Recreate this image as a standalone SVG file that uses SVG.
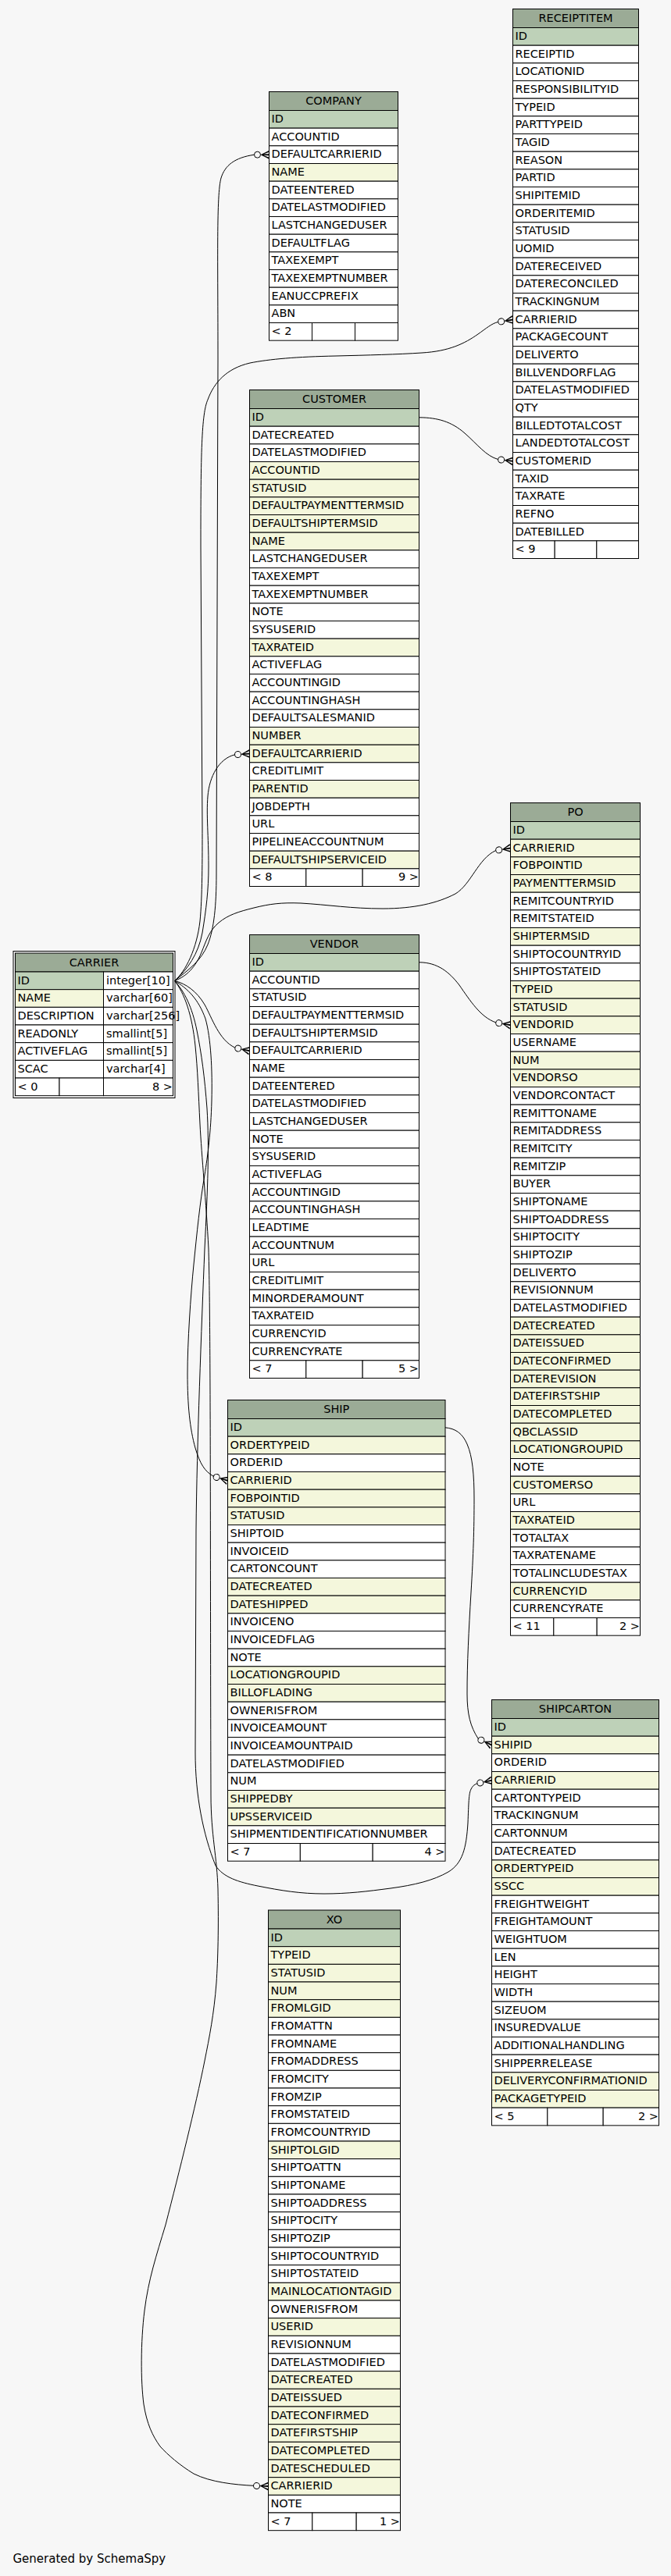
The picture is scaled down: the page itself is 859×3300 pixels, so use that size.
<svg xmlns="http://www.w3.org/2000/svg" xmlns:xlink="http://www.w3.org/1999/xlink" width="859" height="3300" viewBox="0 0 859 3300">
<style>
.tb rect{stroke:#000;stroke-width:1}
.hd{fill:#9bab96}.pk{fill:#bed1b8}.ix{fill:#f4f7dc}.w{fill:#fff}
text{font-family:"DejaVu Sans",Verdana,sans-serif;font-size:14.5px;fill:#000}
.c{text-anchor:middle}.r{text-anchor:end}
.ln{fill:none;stroke:#000;stroke-width:1}
.ring{fill:none;stroke:#000;stroke-width:2}
</style>
<defs>
<g id="ah"><circle cx="-15" cy="0" r="4" fill="none" stroke="#000" stroke-width="1"/><path d="M0,-5.5L-11,0L0,5.5L0,3.5L-7,0.8L0,1L0,-1L-7,-0.8L0,-3.5Z" fill="#000"/></g>
</defs>
<rect width="859" height="3300" fill="#f7f7f7"/>

<g id="edges">
<path class="ln" d="M223.5,1256.5 C242,1242 258,1230 266,1210 C274,1190 277,1160 277,1120 L279,460 C279,330 277,250 283,228 C288,212 300,202 325.5,198.2"/>
<path class="ln" d="M223.5,1256.5 C238,1244 252,1215 256,1180 C259,1150 259,1100 259,1060 L257,700 C257,580 258,530 266,512 C274,490 290,472 320,465 C345,460 380,457 430,456 C470,455 510,454 540,452 C575,450 595,440 612,428 C622,421 630,414 637.7,412.5"/>
<path class="ln" d="M223.5,1256.5 C240,1242 254,1222 259,1195 C264,1165 267,1140 267,1110 C267,1070 264,1045 266,1020 C268,995 280,972 300.5,966.8"/>
<path class="ln" d="M223.5,1256.5 C235,1252 248,1244 258,1220 C264,1205 268,1192 280,1182 C292,1172 305,1168 325,1163 C345,1158 360,1156 385,1157 C420,1159 450,1164 490,1164 C530,1164 560,1157 583,1145 C603,1133 612,1100 634.7,1089.5"/>
<path class="ln" d="M223.5,1256.5 C238,1260 252,1270 262,1287 C272,1305 280,1332 300.9,1342.2"/>
<path class="ln" d="M223.5,1256.5 C240,1266 254,1280 263,1305 C270,1330 272,1370 271,1410 C270,1450 266,1480 262,1505 C256,1540 252,1580 248,1620 C244,1660 240,1720 240,1760 C240,1800 243,1830 250,1855 C256,1875 262,1885 273.3,1891.2"/>
<path class="ln" d="M223.5,1256.5 C236,1270 246,1290 252,1320 C258,1350 262,1380 265,1420 C268,1470 266,1520 262,1600 C258,1700 252,1850 251,1960 L250,2245 C250,2300 260,2350 276,2390 C286,2405 305,2411 330,2416 C360,2422 385,2426 415,2426 C445,2426 470,2423 500,2419 C530,2415 555,2409 574,2398 C592,2387 597,2368 599,2335 C600,2310 600,2298 603,2292 C605,2288 607,2286 610.9,2284.8"/>
<path class="ln" d="M223.5,1256.5 C236,1272 246,1300 250,1340 C253,1370 254,1400 256,1440 C258,1480 264,1540 267,1600 C270,1700 269,2000 270,2300 C270,2350 278,2380 279,2420 C280,2470 279,2510 277,2540 C274,2580 268,2610 262,2640 C250,2700 230,2780 212,2850 C200,2890 190,2920 185,2960 C180,3000 180,3050 184,3080 C188,3105 195,3120 205,3134 C215,3145 230,3158 248,3169 C270,3180 300,3183 324.5,3184.3"/>
<path class="ln" d="M537,534.8 C560,535 578,540 595,555 C612,570 622,584 637.6,588.5"/>
<path class="ln" d="M537,1232.8 C560,1233 575,1245 588,1262 C602,1282 615,1303 634.8,1309.9"/>
<path class="ln" d="M570,1828.8 C583,1830 592,1836 598,1850 C605,1866 607,1890 607,1920 C607,1960 606,1990 603,2040 C600,2090 598,2130 598,2170 C598,2195 602,2212 612.3,2227.5"/>
<use xlink:href="#ah" href="#ah" transform="translate(344.5,198.2)"/>
<use xlink:href="#ah" href="#ah" transform="translate(656.5,409.5) rotate(-9)"/>
<use xlink:href="#ah" href="#ah" transform="translate(319.5,965.5) rotate(-4)"/>
<use xlink:href="#ah" href="#ah" transform="translate(653.5,1086.5) rotate(-9)"/>
<use xlink:href="#ah" href="#ah" transform="translate(319.5,1346.2) rotate(12)"/>
<use xlink:href="#ah" href="#ah" transform="translate(291.5,1896.8) rotate(17)"/>
<use xlink:href="#ah" href="#ah" transform="translate(629.5,2280.8) rotate(-12)"/>
<use xlink:href="#ah" href="#ah" transform="translate(343.5,3185) rotate(2)"/>
<use xlink:href="#ah" href="#ah" transform="translate(656.5,590.8) rotate(7)"/>
<use xlink:href="#ah" href="#ah" transform="translate(653.5,1313.2) rotate(10)"/>
<use xlink:href="#ah" href="#ah" transform="translate(629.5,2235.5) rotate(25)"/>
</g>

<g id="RECEIPTITEM" class="tb" transform="translate(656.5,11.5)">
<rect class="hd" width="161" height="24"/><text class="c" x="80.5" y="16.5">RECEIPTITEM</text>
<rect class="pk" y="24" width="161" height="22.67"/><text x="3" y="39.5">ID</text>
<rect class="w" y="46.67" width="161" height="22.67"/><text x="3" y="62.17">RECEIPTID</text>
<rect class="w" y="69.33" width="161" height="22.67"/><text x="3" y="84.83">LOCATIONID</text>
<rect class="w" y="92" width="161" height="22.67"/><text x="3" y="107.5">RESPONSIBILITYID</text>
<rect class="w" y="114.67" width="161" height="22.67"/><text x="3" y="130.17">TYPEID</text>
<rect class="w" y="137.33" width="161" height="22.67"/><text x="3" y="152.83">PARTTYPEID</text>
<rect class="w" y="160" width="161" height="22.67"/><text x="3" y="175.5">TAGID</text>
<rect class="w" y="182.67" width="161" height="22.67"/><text x="3" y="198.17">REASON</text>
<rect class="w" y="205.33" width="161" height="22.67"/><text x="3" y="220.83">PARTID</text>
<rect class="w" y="228" width="161" height="22.67"/><text x="3" y="243.5">SHIPITEMID</text>
<rect class="w" y="250.67" width="161" height="22.67"/><text x="3" y="266.17">ORDERITEMID</text>
<rect class="w" y="273.33" width="161" height="22.67"/><text x="3" y="288.83">STATUSID</text>
<rect class="w" y="296" width="161" height="22.67"/><text x="3" y="311.5">UOMID</text>
<rect class="w" y="318.67" width="161" height="22.67"/><text x="3" y="334.17">DATERECEIVED</text>
<rect class="w" y="341.33" width="161" height="22.67"/><text x="3" y="356.83">DATERECONCILED</text>
<rect class="w" y="364" width="161" height="22.67"/><text x="3" y="379.5">TRACKINGNUM</text>
<rect class="w" y="386.67" width="161" height="22.67"/><text x="3" y="402.17">CARRIERID</text>
<rect class="w" y="409.33" width="161" height="22.67"/><text x="3" y="424.83">PACKAGECOUNT</text>
<rect class="w" y="432" width="161" height="22.67"/><text x="3" y="447.5">DELIVERTO</text>
<rect class="w" y="454.67" width="161" height="22.67"/><text x="3" y="470.17">BILLVENDORFLAG</text>
<rect class="w" y="477.33" width="161" height="22.67"/><text x="3" y="492.83">DATELASTMODIFIED</text>
<rect class="w" y="500" width="161" height="22.67"/><text x="3" y="515.5">QTY</text>
<rect class="w" y="522.67" width="161" height="22.67"/><text x="3" y="538.17">BILLEDTOTALCOST</text>
<rect class="w" y="545.33" width="161" height="22.67"/><text x="3" y="560.83">LANDEDTOTALCOST</text>
<rect class="w" y="568" width="161" height="22.67"/><text x="3" y="583.5">CUSTOMERID</text>
<rect class="w" y="590.67" width="161" height="22.67"/><text x="3" y="606.17">TAXID</text>
<rect class="w" y="613.33" width="161" height="22.67"/><text x="3" y="628.83">TAXRATE</text>
<rect class="w" y="636" width="161" height="22.67"/><text x="3" y="651.5">REFNO</text>
<rect class="w" y="658.67" width="161" height="22.67"/><text x="3" y="674.17">DATEBILLED</text>
<rect class="w" y="681.33" width="53.67" height="22.67"/><rect class="w" x="53.67" y="681.33" width="53.67" height="22.67"/><rect class="w" x="107.33" y="681.33" width="53.67" height="22.67"/><text x="3" y="696.83">&lt; 9</text>
</g>

<g id="COMPANY" class="tb" transform="translate(344.5,117.5)">
<rect class="hd" width="165" height="24"/><text class="c" x="82.5" y="16.5">COMPANY</text>
<rect class="pk" y="24" width="165" height="22.67"/><text x="3" y="39.5">ID</text>
<rect class="w" y="46.67" width="165" height="22.67"/><text x="3" y="62.17">ACCOUNTID</text>
<rect class="w" y="69.33" width="165" height="22.67"/><text x="3" y="84.83">DEFAULTCARRIERID</text>
<rect class="ix" y="92" width="165" height="22.67"/><text x="3" y="107.5">NAME</text>
<rect class="w" y="114.67" width="165" height="22.67"/><text x="3" y="130.17">DATEENTERED</text>
<rect class="w" y="137.33" width="165" height="22.67"/><text x="3" y="152.83">DATELASTMODIFIED</text>
<rect class="w" y="160" width="165" height="22.67"/><text x="3" y="175.5">LASTCHANGEDUSER</text>
<rect class="w" y="182.67" width="165" height="22.67"/><text x="3" y="198.17">DEFAULTFLAG</text>
<rect class="w" y="205.33" width="165" height="22.67"/><text x="3" y="220.83">TAXEXEMPT</text>
<rect class="w" y="228" width="165" height="22.67"/><text x="3" y="243.5">TAXEXEMPTNUMBER</text>
<rect class="w" y="250.67" width="165" height="22.67"/><text x="3" y="266.17">EANUCCPREFIX</text>
<rect class="w" y="273.33" width="165" height="22.67"/><text x="3" y="288.83">ABN</text>
<rect class="w" y="296" width="55" height="22.67"/><rect class="w" x="55" y="296" width="55" height="22.67"/><rect class="w" x="110" y="296" width="55" height="22.67"/><text x="3" y="311.5">&lt; 2</text>
</g>

<g id="CUSTOMER" class="tb" transform="translate(319.5,499.5)">
<rect class="hd" width="217" height="24"/><text class="c" x="108.5" y="16.5">CUSTOMER</text>
<rect class="pk" y="24" width="217" height="22.67"/><text x="3" y="39.5">ID</text>
<rect class="w" y="46.67" width="217" height="22.67"/><text x="3" y="62.17">DATECREATED</text>
<rect class="w" y="69.33" width="217" height="22.67"/><text x="3" y="84.83">DATELASTMODIFIED</text>
<rect class="ix" y="92" width="217" height="22.67"/><text x="3" y="107.5">ACCOUNTID</text>
<rect class="ix" y="114.67" width="217" height="22.67"/><text x="3" y="130.17">STATUSID</text>
<rect class="ix" y="137.33" width="217" height="22.67"/><text x="3" y="152.83">DEFAULTPAYMENTTERMSID</text>
<rect class="ix" y="160" width="217" height="22.67"/><text x="3" y="175.5">DEFAULTSHIPTERMSID</text>
<rect class="ix" y="182.67" width="217" height="22.67"/><text x="3" y="198.17">NAME</text>
<rect class="w" y="205.33" width="217" height="22.67"/><text x="3" y="220.83">LASTCHANGEDUSER</text>
<rect class="w" y="228" width="217" height="22.67"/><text x="3" y="243.5">TAXEXEMPT</text>
<rect class="w" y="250.67" width="217" height="22.67"/><text x="3" y="266.17">TAXEXEMPTNUMBER</text>
<rect class="w" y="273.33" width="217" height="22.67"/><text x="3" y="288.83">NOTE</text>
<rect class="w" y="296" width="217" height="22.67"/><text x="3" y="311.5">SYSUSERID</text>
<rect class="ix" y="318.67" width="217" height="22.67"/><text x="3" y="334.17">TAXRATEID</text>
<rect class="w" y="341.33" width="217" height="22.67"/><text x="3" y="356.83">ACTIVEFLAG</text>
<rect class="w" y="364" width="217" height="22.67"/><text x="3" y="379.5">ACCOUNTINGID</text>
<rect class="w" y="386.67" width="217" height="22.67"/><text x="3" y="402.17">ACCOUNTINGHASH</text>
<rect class="w" y="409.33" width="217" height="22.67"/><text x="3" y="424.83">DEFAULTSALESMANID</text>
<rect class="ix" y="432" width="217" height="22.67"/><text x="3" y="447.5">NUMBER</text>
<rect class="ix" y="454.67" width="217" height="22.67"/><text x="3" y="470.17">DEFAULTCARRIERID</text>
<rect class="w" y="477.33" width="217" height="22.67"/><text x="3" y="492.83">CREDITLIMIT</text>
<rect class="ix" y="500" width="217" height="22.67"/><text x="3" y="515.5">PARENTID</text>
<rect class="w" y="522.67" width="217" height="22.67"/><text x="3" y="538.17">JOBDEPTH</text>
<rect class="w" y="545.33" width="217" height="22.67"/><text x="3" y="560.83">URL</text>
<rect class="w" y="568" width="217" height="22.67"/><text x="3" y="583.5">PIPELINEACCOUNTNUM</text>
<rect class="ix" y="590.67" width="217" height="22.67"/><text x="3" y="606.17">DEFAULTSHIPSERVICEID</text>
<rect class="w" y="613.33" width="72.33" height="22.67"/><rect class="w" x="72.33" y="613.33" width="72.33" height="22.67"/><rect class="w" x="144.67" y="613.33" width="72.33" height="22.67"/><text x="3" y="628.83">&lt; 8</text><text class="r" x="216.5" y="628.83">9 &gt;</text>
</g>

<g id="CARRIER" class="tb" transform="translate(19.5,1221)">
<rect class="ring" x="-2.5" y="-2.5" width="207" height="188"/>
<rect class="hd" width="202" height="24"/><text class="c" x="101" y="16.5">CARRIER</text>
<rect class="pk" y="24" width="113" height="22.67"/><rect class="w" x="113" y="24" width="89" height="22.67"/><text x="3" y="39.5">ID</text><text x="116.5" y="39.5">integer[10]</text>
<rect class="ix" y="46.67" width="113" height="22.67"/><rect class="w" x="113" y="46.67" width="89" height="22.67"/><text x="3" y="62.17">NAME</text><text x="116.5" y="62.17">varchar[60]</text>
<rect class="w" y="69.33" width="113" height="22.67"/><rect class="w" x="113" y="69.33" width="89" height="22.67"/><text x="3" y="84.83">DESCRIPTION</text><text x="116.5" y="84.83">varchar[256]</text>
<rect class="w" y="92" width="113" height="22.67"/><rect class="w" x="113" y="92" width="89" height="22.67"/><text x="3" y="107.5">READONLY</text><text x="116.5" y="107.5">smallint[5]</text>
<rect class="w" y="114.67" width="113" height="22.67"/><rect class="w" x="113" y="114.67" width="89" height="22.67"/><text x="3" y="130.17">ACTIVEFLAG</text><text x="116.5" y="130.17">smallint[5]</text>
<rect class="w" y="137.33" width="113" height="22.67"/><rect class="w" x="113" y="137.33" width="89" height="22.67"/><text x="3" y="152.83">SCAC</text><text x="116.5" y="152.83">varchar[4]</text>
<rect class="w" y="160" width="56.5" height="22.67"/><rect class="w" x="56.5" y="160" width="56.5" height="22.67"/><rect class="w" x="113" y="160" width="89" height="22.67"/><text x="3" y="175.5">&lt; 0</text><text class="r" x="201.5" y="175.5">8 &gt;</text>
</g>

<g id="PO" class="tb" transform="translate(653.5,1028.5)">
<rect class="hd" width="166" height="24"/><text class="c" x="83" y="16.5">PO</text>
<rect class="pk" y="24" width="166" height="22.67"/><text x="3" y="39.5">ID</text>
<rect class="ix" y="46.67" width="166" height="22.67"/><text x="3" y="62.17">CARRIERID</text>
<rect class="ix" y="69.33" width="166" height="22.67"/><text x="3" y="84.83">FOBPOINTID</text>
<rect class="ix" y="92" width="166" height="22.67"/><text x="3" y="107.5">PAYMENTTERMSID</text>
<rect class="w" y="114.67" width="166" height="22.67"/><text x="3" y="130.17">REMITCOUNTRYID</text>
<rect class="w" y="137.33" width="166" height="22.67"/><text x="3" y="152.83">REMITSTATEID</text>
<rect class="ix" y="160" width="166" height="22.67"/><text x="3" y="175.5">SHIPTERMSID</text>
<rect class="w" y="182.67" width="166" height="22.67"/><text x="3" y="198.17">SHIPTOCOUNTRYID</text>
<rect class="w" y="205.33" width="166" height="22.67"/><text x="3" y="220.83">SHIPTOSTATEID</text>
<rect class="ix" y="228" width="166" height="22.67"/><text x="3" y="243.5">TYPEID</text>
<rect class="ix" y="250.67" width="166" height="22.67"/><text x="3" y="266.17">STATUSID</text>
<rect class="ix" y="273.33" width="166" height="22.67"/><text x="3" y="288.83">VENDORID</text>
<rect class="w" y="296" width="166" height="22.67"/><text x="3" y="311.5">USERNAME</text>
<rect class="ix" y="318.67" width="166" height="22.67"/><text x="3" y="334.17">NUM</text>
<rect class="ix" y="341.33" width="166" height="22.67"/><text x="3" y="356.83">VENDORSO</text>
<rect class="w" y="364" width="166" height="22.67"/><text x="3" y="379.5">VENDORCONTACT</text>
<rect class="w" y="386.67" width="166" height="22.67"/><text x="3" y="402.17">REMITTONAME</text>
<rect class="w" y="409.33" width="166" height="22.67"/><text x="3" y="424.83">REMITADDRESS</text>
<rect class="w" y="432" width="166" height="22.67"/><text x="3" y="447.5">REMITCITY</text>
<rect class="w" y="454.67" width="166" height="22.67"/><text x="3" y="470.17">REMITZIP</text>
<rect class="w" y="477.33" width="166" height="22.67"/><text x="3" y="492.83">BUYER</text>
<rect class="w" y="500" width="166" height="22.67"/><text x="3" y="515.5">SHIPTONAME</text>
<rect class="w" y="522.67" width="166" height="22.67"/><text x="3" y="538.17">SHIPTOADDRESS</text>
<rect class="w" y="545.33" width="166" height="22.67"/><text x="3" y="560.83">SHIPTOCITY</text>
<rect class="w" y="568" width="166" height="22.67"/><text x="3" y="583.5">SHIPTOZIP</text>
<rect class="w" y="590.67" width="166" height="22.67"/><text x="3" y="606.17">DELIVERTO</text>
<rect class="w" y="613.33" width="166" height="22.67"/><text x="3" y="628.83">REVISIONNUM</text>
<rect class="w" y="636" width="166" height="22.67"/><text x="3" y="651.5">DATELASTMODIFIED</text>
<rect class="ix" y="658.67" width="166" height="22.67"/><text x="3" y="674.17">DATECREATED</text>
<rect class="ix" y="681.33" width="166" height="22.67"/><text x="3" y="696.83">DATEISSUED</text>
<rect class="ix" y="704" width="166" height="22.67"/><text x="3" y="719.5">DATECONFIRMED</text>
<rect class="ix" y="726.67" width="166" height="22.67"/><text x="3" y="742.17">DATEREVISION</text>
<rect class="ix" y="749.33" width="166" height="22.67"/><text x="3" y="764.83">DATEFIRSTSHIP</text>
<rect class="ix" y="772" width="166" height="22.67"/><text x="3" y="787.5">DATECOMPLETED</text>
<rect class="ix" y="794.67" width="166" height="22.67"/><text x="3" y="810.17">QBCLASSID</text>
<rect class="ix" y="817.33" width="166" height="22.67"/><text x="3" y="832.83">LOCATIONGROUPID</text>
<rect class="w" y="840" width="166" height="22.67"/><text x="3" y="855.5">NOTE</text>
<rect class="ix" y="862.67" width="166" height="22.67"/><text x="3" y="878.17">CUSTOMERSO</text>
<rect class="w" y="885.33" width="166" height="22.67"/><text x="3" y="900.83">URL</text>
<rect class="ix" y="908" width="166" height="22.67"/><text x="3" y="923.5">TAXRATEID</text>
<rect class="w" y="930.67" width="166" height="22.67"/><text x="3" y="946.17">TOTALTAX</text>
<rect class="w" y="953.33" width="166" height="22.67"/><text x="3" y="968.83">TAXRATENAME</text>
<rect class="w" y="976" width="166" height="22.67"/><text x="3" y="991.5">TOTALINCLUDESTAX</text>
<rect class="ix" y="998.67" width="166" height="22.67"/><text x="3" y="1014.17">CURRENCYID</text>
<rect class="w" y="1021.33" width="166" height="22.67"/><text x="3" y="1036.83">CURRENCYRATE</text>
<rect class="w" y="1044" width="55.33" height="22.67"/><rect class="w" x="55.33" y="1044" width="55.33" height="22.67"/><rect class="w" x="110.67" y="1044" width="55.33" height="22.67"/><text x="3" y="1059.5">&lt; 11</text><text class="r" x="165.5" y="1059.5">2 &gt;</text>
</g>

<g id="VENDOR" class="tb" transform="translate(319.5,1197.5)">
<rect class="hd" width="217" height="24"/><text class="c" x="108.5" y="16.5">VENDOR</text>
<rect class="pk" y="24" width="217" height="22.67"/><text x="3" y="39.5">ID</text>
<rect class="w" y="46.67" width="217" height="22.67"/><text x="3" y="62.17">ACCOUNTID</text>
<rect class="w" y="69.33" width="217" height="22.67"/><text x="3" y="84.83">STATUSID</text>
<rect class="w" y="92" width="217" height="22.67"/><text x="3" y="107.5">DEFAULTPAYMENTTERMSID</text>
<rect class="w" y="114.67" width="217" height="22.67"/><text x="3" y="130.17">DEFAULTSHIPTERMSID</text>
<rect class="w" y="137.33" width="217" height="22.67"/><text x="3" y="152.83">DEFAULTCARRIERID</text>
<rect class="w" y="160" width="217" height="22.67"/><text x="3" y="175.5">NAME</text>
<rect class="w" y="182.67" width="217" height="22.67"/><text x="3" y="198.17">DATEENTERED</text>
<rect class="w" y="205.33" width="217" height="22.67"/><text x="3" y="220.83">DATELASTMODIFIED</text>
<rect class="w" y="228" width="217" height="22.67"/><text x="3" y="243.5">LASTCHANGEDUSER</text>
<rect class="w" y="250.67" width="217" height="22.67"/><text x="3" y="266.17">NOTE</text>
<rect class="w" y="273.33" width="217" height="22.67"/><text x="3" y="288.83">SYSUSERID</text>
<rect class="w" y="296" width="217" height="22.67"/><text x="3" y="311.5">ACTIVEFLAG</text>
<rect class="w" y="318.67" width="217" height="22.67"/><text x="3" y="334.17">ACCOUNTINGID</text>
<rect class="w" y="341.33" width="217" height="22.67"/><text x="3" y="356.83">ACCOUNTINGHASH</text>
<rect class="w" y="364" width="217" height="22.67"/><text x="3" y="379.5">LEADTIME</text>
<rect class="w" y="386.67" width="217" height="22.67"/><text x="3" y="402.17">ACCOUNTNUM</text>
<rect class="w" y="409.33" width="217" height="22.67"/><text x="3" y="424.83">URL</text>
<rect class="w" y="432" width="217" height="22.67"/><text x="3" y="447.5">CREDITLIMIT</text>
<rect class="w" y="454.67" width="217" height="22.67"/><text x="3" y="470.17">MINORDERAMOUNT</text>
<rect class="w" y="477.33" width="217" height="22.67"/><text x="3" y="492.83">TAXRATEID</text>
<rect class="w" y="500" width="217" height="22.67"/><text x="3" y="515.5">CURRENCYID</text>
<rect class="w" y="522.67" width="217" height="22.67"/><text x="3" y="538.17">CURRENCYRATE</text>
<rect class="w" y="545.33" width="72.33" height="22.67"/><rect class="w" x="72.33" y="545.33" width="72.33" height="22.67"/><rect class="w" x="144.67" y="545.33" width="72.33" height="22.67"/><text x="3" y="560.83">&lt; 7</text><text class="r" x="216.5" y="560.83">5 &gt;</text>
</g>

<g id="SHIP" class="tb" transform="translate(291.5,1793.5)">
<rect class="hd" width="278.5" height="24"/><text class="c" x="139.25" y="16.5">SHIP</text>
<rect class="pk" y="24" width="278.5" height="22.67"/><text x="3" y="39.5">ID</text>
<rect class="ix" y="46.67" width="278.5" height="22.67"/><text x="3" y="62.17">ORDERTYPEID</text>
<rect class="w" y="69.33" width="278.5" height="22.67"/><text x="3" y="84.83">ORDERID</text>
<rect class="ix" y="92" width="278.5" height="22.67"/><text x="3" y="107.5">CARRIERID</text>
<rect class="ix" y="114.67" width="278.5" height="22.67"/><text x="3" y="130.17">FOBPOINTID</text>
<rect class="ix" y="137.33" width="278.5" height="22.67"/><text x="3" y="152.83">STATUSID</text>
<rect class="w" y="160" width="278.5" height="22.67"/><text x="3" y="175.5">SHIPTOID</text>
<rect class="w" y="182.67" width="278.5" height="22.67"/><text x="3" y="198.17">INVOICEID</text>
<rect class="w" y="205.33" width="278.5" height="22.67"/><text x="3" y="220.83">CARTONCOUNT</text>
<rect class="ix" y="228" width="278.5" height="22.67"/><text x="3" y="243.5">DATECREATED</text>
<rect class="ix" y="250.67" width="278.5" height="22.67"/><text x="3" y="266.17">DATESHIPPED</text>
<rect class="w" y="273.33" width="278.5" height="22.67"/><text x="3" y="288.83">INVOICENO</text>
<rect class="w" y="296" width="278.5" height="22.67"/><text x="3" y="311.5">INVOICEDFLAG</text>
<rect class="w" y="318.67" width="278.5" height="22.67"/><text x="3" y="334.17">NOTE</text>
<rect class="ix" y="341.33" width="278.5" height="22.67"/><text x="3" y="356.83">LOCATIONGROUPID</text>
<rect class="ix" y="364" width="278.5" height="22.67"/><text x="3" y="379.5">BILLOFLADING</text>
<rect class="w" y="386.67" width="278.5" height="22.67"/><text x="3" y="402.17">OWNERISFROM</text>
<rect class="w" y="409.33" width="278.5" height="22.67"/><text x="3" y="424.83">INVOICEAMOUNT</text>
<rect class="w" y="432" width="278.5" height="22.67"/><text x="3" y="447.5">INVOICEAMOUNTPAID</text>
<rect class="w" y="454.67" width="278.5" height="22.67"/><text x="3" y="470.17">DATELASTMODIFIED</text>
<rect class="w" y="477.33" width="278.5" height="22.67"/><text x="3" y="492.83">NUM</text>
<rect class="ix" y="500" width="278.5" height="22.67"/><text x="3" y="515.5">SHIPPEDBY</text>
<rect class="ix" y="522.67" width="278.5" height="22.67"/><text x="3" y="538.17">UPSSERVICEID</text>
<rect class="w" y="545.33" width="278.5" height="22.67"/><text x="3" y="560.83">SHIPMENTIDENTIFICATIONNUMBER</text>
<rect class="w" y="568" width="92.83" height="22.67"/><rect class="w" x="92.83" y="568" width="92.83" height="22.67"/><rect class="w" x="185.67" y="568" width="92.83" height="22.67"/><text x="3" y="583.5">&lt; 7</text><text class="r" x="278" y="583.5">4 &gt;</text>
</g>

<g id="SHIPCARTON" class="tb" transform="translate(629.5,2177.5)">
<rect class="hd" width="214" height="24"/><text class="c" x="107" y="16.5">SHIPCARTON</text>
<rect class="pk" y="24" width="214" height="22.67"/><text x="3" y="39.5">ID</text>
<rect class="ix" y="46.67" width="214" height="22.67"/><text x="3" y="62.17">SHIPID</text>
<rect class="w" y="69.33" width="214" height="22.67"/><text x="3" y="84.83">ORDERID</text>
<rect class="ix" y="92" width="214" height="22.67"/><text x="3" y="107.5">CARRIERID</text>
<rect class="w" y="114.67" width="214" height="22.67"/><text x="3" y="130.17">CARTONTYPEID</text>
<rect class="w" y="137.33" width="214" height="22.67"/><text x="3" y="152.83">TRACKINGNUM</text>
<rect class="w" y="160" width="214" height="22.67"/><text x="3" y="175.5">CARTONNUM</text>
<rect class="w" y="182.67" width="214" height="22.67"/><text x="3" y="198.17">DATECREATED</text>
<rect class="ix" y="205.33" width="214" height="22.67"/><text x="3" y="220.83">ORDERTYPEID</text>
<rect class="ix" y="228" width="214" height="22.67"/><text x="3" y="243.5">SSCC</text>
<rect class="w" y="250.67" width="214" height="22.67"/><text x="3" y="266.17">FREIGHTWEIGHT</text>
<rect class="w" y="273.33" width="214" height="22.67"/><text x="3" y="288.83">FREIGHTAMOUNT</text>
<rect class="w" y="296" width="214" height="22.67"/><text x="3" y="311.5">WEIGHTUOM</text>
<rect class="w" y="318.67" width="214" height="22.67"/><text x="3" y="334.17">LEN</text>
<rect class="w" y="341.33" width="214" height="22.67"/><text x="3" y="356.83">HEIGHT</text>
<rect class="w" y="364" width="214" height="22.67"/><text x="3" y="379.5">WIDTH</text>
<rect class="w" y="386.67" width="214" height="22.67"/><text x="3" y="402.17">SIZEUOM</text>
<rect class="w" y="409.33" width="214" height="22.67"/><text x="3" y="424.83">INSUREDVALUE</text>
<rect class="w" y="432" width="214" height="22.67"/><text x="3" y="447.5">ADDITIONALHANDLING</text>
<rect class="w" y="454.67" width="214" height="22.67"/><text x="3" y="470.17">SHIPPERRELEASE</text>
<rect class="ix" y="477.33" width="214" height="22.67"/><text x="3" y="492.83">DELIVERYCONFIRMATIONID</text>
<rect class="ix" y="500" width="214" height="22.67"/><text x="3" y="515.5">PACKAGETYPEID</text>
<rect class="w" y="522.67" width="71.33" height="22.67"/><rect class="w" x="71.33" y="522.67" width="71.33" height="22.67"/><rect class="w" x="142.67" y="522.67" width="71.33" height="22.67"/><text x="3" y="538.17">&lt; 5</text><text class="r" x="213.5" y="538.17">2 &gt;</text>
</g>

<g id="XO" class="tb" transform="translate(343.5,2447)">
<rect class="hd" width="169" height="24"/><text class="c" x="84.5" y="16.5">XO</text>
<rect class="pk" y="24" width="169" height="22.67"/><text x="3" y="39.5">ID</text>
<rect class="ix" y="46.67" width="169" height="22.67"/><text x="3" y="62.17">TYPEID</text>
<rect class="ix" y="69.33" width="169" height="22.67"/><text x="3" y="84.83">STATUSID</text>
<rect class="ix" y="92" width="169" height="22.67"/><text x="3" y="107.5">NUM</text>
<rect class="ix" y="114.67" width="169" height="22.67"/><text x="3" y="130.17">FROMLGID</text>
<rect class="w" y="137.33" width="169" height="22.67"/><text x="3" y="152.83">FROMATTN</text>
<rect class="w" y="160" width="169" height="22.67"/><text x="3" y="175.5">FROMNAME</text>
<rect class="w" y="182.67" width="169" height="22.67"/><text x="3" y="198.17">FROMADDRESS</text>
<rect class="w" y="205.33" width="169" height="22.67"/><text x="3" y="220.83">FROMCITY</text>
<rect class="w" y="228" width="169" height="22.67"/><text x="3" y="243.5">FROMZIP</text>
<rect class="w" y="250.67" width="169" height="22.67"/><text x="3" y="266.17">FROMSTATEID</text>
<rect class="w" y="273.33" width="169" height="22.67"/><text x="3" y="288.83">FROMCOUNTRYID</text>
<rect class="ix" y="296" width="169" height="22.67"/><text x="3" y="311.5">SHIPTOLGID</text>
<rect class="w" y="318.67" width="169" height="22.67"/><text x="3" y="334.17">SHIPTOATTN</text>
<rect class="w" y="341.33" width="169" height="22.67"/><text x="3" y="356.83">SHIPTONAME</text>
<rect class="w" y="364" width="169" height="22.67"/><text x="3" y="379.5">SHIPTOADDRESS</text>
<rect class="w" y="386.67" width="169" height="22.67"/><text x="3" y="402.17">SHIPTOCITY</text>
<rect class="w" y="409.33" width="169" height="22.67"/><text x="3" y="424.83">SHIPTOZIP</text>
<rect class="w" y="432" width="169" height="22.67"/><text x="3" y="447.5">SHIPTOCOUNTRYID</text>
<rect class="w" y="454.67" width="169" height="22.67"/><text x="3" y="470.17">SHIPTOSTATEID</text>
<rect class="ix" y="477.33" width="169" height="22.67"/><text x="3" y="492.83">MAINLOCATIONTAGID</text>
<rect class="w" y="500" width="169" height="22.67"/><text x="3" y="515.5">OWNERISFROM</text>
<rect class="ix" y="522.67" width="169" height="22.67"/><text x="3" y="538.17">USERID</text>
<rect class="w" y="545.33" width="169" height="22.67"/><text x="3" y="560.83">REVISIONNUM</text>
<rect class="w" y="568" width="169" height="22.67"/><text x="3" y="583.5">DATELASTMODIFIED</text>
<rect class="ix" y="590.67" width="169" height="22.67"/><text x="3" y="606.17">DATECREATED</text>
<rect class="ix" y="613.33" width="169" height="22.67"/><text x="3" y="628.83">DATEISSUED</text>
<rect class="ix" y="636" width="169" height="22.67"/><text x="3" y="651.5">DATECONFIRMED</text>
<rect class="ix" y="658.67" width="169" height="22.67"/><text x="3" y="674.17">DATEFIRSTSHIP</text>
<rect class="ix" y="681.33" width="169" height="22.67"/><text x="3" y="696.83">DATECOMPLETED</text>
<rect class="ix" y="704" width="169" height="22.67"/><text x="3" y="719.5">DATESCHEDULED</text>
<rect class="ix" y="726.67" width="169" height="22.67"/><text x="3" y="742.17">CARRIERID</text>
<rect class="w" y="749.33" width="169" height="22.67"/><text x="3" y="764.83">NOTE</text>
<rect class="w" y="772" width="56.33" height="22.67"/><rect class="w" x="56.33" y="772" width="56.33" height="22.67"/><rect class="w" x="112.67" y="772" width="56.33" height="22.67"/><text x="3" y="787.5">&lt; 7</text><text class="r" x="168.5" y="787.5">1 &gt;</text>
</g>

<text x="16.5" y="3283" style="font-size:15px">Generated by SchemaSpy</text>
</svg>
